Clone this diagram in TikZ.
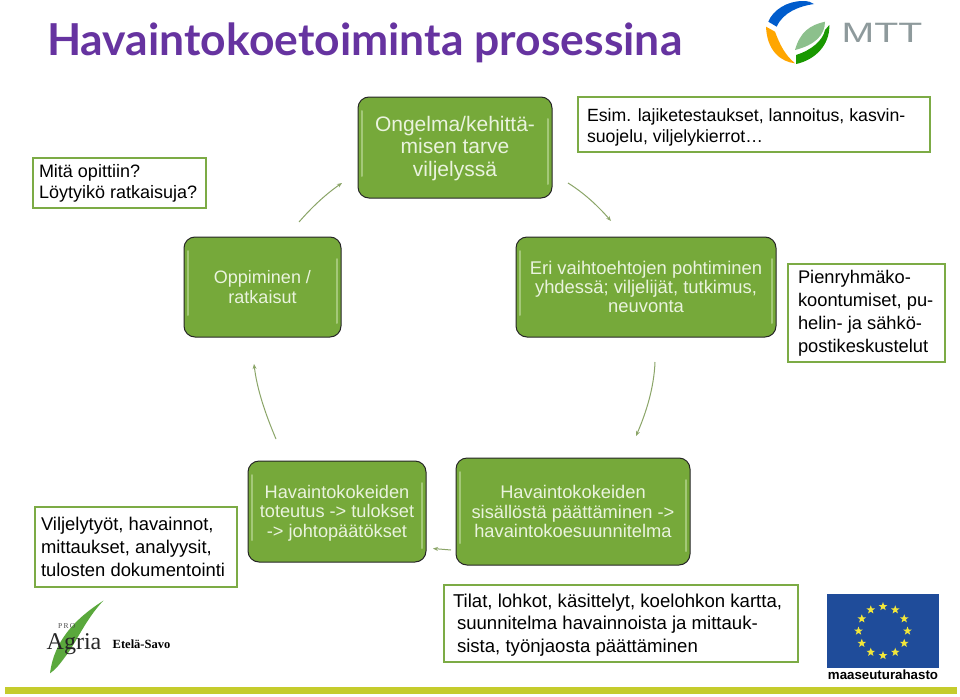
\documentclass[tikz,border=0pt]{standalone}
\usepackage{fontspec}
\setmainfont{Liberation Sans}
\newfontfamily\titlefont{Lato}
\newfontfamily\serifface{Liberation Serif}
\usetikzlibrary{shapes.geometric,calc,arrows.meta}
\definecolor{boxgreen}{HTML}{76A93A}
\definecolor{bevel}{HTML}{A4C878}
\definecolor{frameg}{HTML}{7CAB45}
\definecolor{arrowg}{HTML}{8BA568}
\definecolor{titlep}{HTML}{6633A0}
\definecolor{txtlight}{HTML}{EAF3DE}
\definecolor{barg}{HTML}{C5CC2C}
\definecolor{eublue}{HTML}{1F4C9A}
\definecolor{eustar}{HTML}{F2E63A}
\definecolor{mttgray}{HTML}{8E9A9C}
\definecolor{leafg}{HTML}{5AA83C}
\tikzset{
  stepbox/.style={draw=black!85,line width=1pt,fill=boxgreen,rounded corners=11pt,text=txtlight,
    align=center,inner sep=0pt,
    path picture={
      \draw[bevel,line width=2pt,line cap=round]
        ([xshift=4pt,yshift=-14pt]path picture bounding box.north west)
        -- ([xshift=4pt,yshift=22pt]path picture bounding box.south west);
      \draw[bevel,line width=2pt,line cap=round]
        ([xshift=-4pt,yshift=-22pt]path picture bounding box.north east)
        -- ([xshift=-4pt,yshift=14pt]path picture bounding box.south east);
    }},
  notebox/.style={draw=frameg,line width=2.8pt,fill=white,text=black,align=left,inner sep=0pt},
  flowarrow/.style={draw=arrowg,line width=1pt,-{Stealth[length=5pt,width=4pt]}},
}
\begin{document}
\begin{tikzpicture}[x=1pt,y=-1pt]
\useasboundingbox (0,0) rectangle (960,696);
\fill[white] (0,0) rectangle (960,696);

% title
\node[text=titlep,anchor=base west,inner sep=0pt] (title) at (47,55)
  {\resizebox{635pt}{\height}{\titlefont\bfseries\fontsize{44}{46}\selectfont Havaintokoetoiminta prosessina}};

% MTT logo
\fill[blue!55!cyan!80!black] (768.3,21.7) .. controls (773,10) and (787,1) .. (803,1) .. controls (808,1) and (811,2) .. (814,4) .. controls (800,6) and (783,12) .. (776.7,26.7) -- cycle;
\fill[orange!70!yellow] (766,26.7) -- (775,31.7) .. controls (780,45) and (785,55) .. (795,63.3) .. controls (782,62) and (767,52) .. (766,26.7) -- cycle;
\fill[green!55!black!90!yellow] (829.3,25) .. controls (830,45) and (815,60) .. (796,64) -- (796,55) .. controls (812,50) and (823,40) .. (825,30) -- cycle;
\fill[green!45!black!45!white] (795,50) .. controls (800,32) and (810,25) .. (825,21.7) .. controls (825,35) and (815,45) .. (795,50) -- cycle;
\node[text=mttgray,inner sep=0pt] (mtt) at (882,33) {\scalebox{1.4}[1]{\fontsize{28}{28}\selectfont MTT}};

% step boxes
\node[stepbox,minimum width=194pt,minimum height=101pt,font=\fontsize{21}{22.5}\selectfont] (need) at (455,147.5)
  {\rule{0pt}{17.3pt}Ongelma/kehittä-\\misen tarve\\viljelyssä};
\node[stepbox,minimum width=157pt,minimum height=100pt,font=\fontsize{18}{19.5}\selectfont] (learn) at (262.5,287)
  {Oppiminen /\\ratkaisut};
\node[stepbox,minimum width=260pt,minimum height=100pt,font=\fontsize{18.4}{19.3}\selectfont] (ideas) at (646,287)
  {Eri vaihtoehtojen pohtiminen\\yhdessä; viljelijät, tutkimus,\\neuvonta};
\node[stepbox,minimum width=178pt,minimum height=101pt,font=\fontsize{18.2}{19.5}\selectfont] (run) at (337,511.5)
  {\rule{0pt}{16.1pt}Havaintokokeiden\\toteutus -> tulokset\\-> johtopäätökset};
\node[stepbox,minimum width=234pt,minimum height=107pt,font=\fontsize{18.3}{19.5}\selectfont] (plan) at (573,511.5)
  {Havaintokokeiden\\sisällöstä päättäminen ->\\havaintokoesuunnitelma};

% note boxes
\node[notebox,minimum width=173pt,minimum height=50pt,font=\fontsize{18}{21}\selectfont] (n1) at (119.5,183)
  {\makebox[161pt][l]{Mitä opittiin?}\\\makebox[161pt][l]{Löytyikö ratkaisuja?}};
\node[notebox,minimum width=352pt,minimum height=55pt,font=\fontsize{17.7}{21.5}\selectfont] (n2) at (754,124.5)
  {\rule{0pt}{19pt}\makebox[340pt][l]{\hspace*{3pt}Esim. lajiketestaukset, lannoitus, kasvin-}\\\makebox[340pt][l]{\hspace*{3pt}suojelu, viljelykierrot…}};
\node[notebox,minimum width=157pt,minimum height=98pt,font=\fontsize{18.3}{23}\selectfont] (n3) at (866.5,313)
  {\makebox[137pt][l]{Pienryhmäko-}\\\makebox[137pt][l]{koontumiset, pu-}\\\makebox[137pt][l]{helin- ja sähkö-}\\\makebox[137pt][l]{postikeskustelut}};
\node[notebox,minimum width=202pt,minimum height=80pt,font=\fontsize{18.4}{22.7}\selectfont] (n4) at (136,547)
  {\makebox[190pt][l]{Viljelytyöt, havainnot,}\\\makebox[190pt][l]{mittaukset, analyysit,}\\\makebox[190pt][l]{tulosten dokumentointi}};
\node[notebox,minimum width=354pt,minimum height=77pt,font=\fontsize{18.6}{22.5}\selectfont] (n5) at (621,623.5)
  {\rule{0pt}{16.5pt}\makebox[338pt][l]{\hspace*{1pt}Tilat, lohkot, käsittelyt, koelohkon kartta,}\\\makebox[338pt][l]{\hspace*{5pt}suunnitelma havainnoista ja mittauk-}\\\makebox[338pt][l]{\hspace*{5pt}sista, työnjaosta päättäminen}};

% connectors
\coordinate (a1) at (299,222); \coordinate (a2) at (342,183);
\coordinate (b1) at (568,183); \coordinate (b2) at (611,221);
\coordinate (c1) at (655,362); \coordinate (c2) at (636,436);
\coordinate (d1) at (451,550); \coordinate (d2) at (433,548.5);
\coordinate (e1) at (276,439); \coordinate (e2) at (254,364);
\draw[flowarrow] (a1) .. controls (312,207) and (326,194) .. (a2);
\draw[flowarrow] (b1) .. controls (584,193) and (598,206) .. (b2);
\draw[flowarrow] (c1) .. controls (654,388) and (646,413) .. (c2);
\draw[flowarrow] (d1) -- (d2);
\draw[flowarrow] (e1) .. controls (265,413) and (257,389) .. (e2);

% ProAgria logo
\fill[leafg] (50,673.3) .. controls (53,650) and (65,625) .. (103.3,600.7) .. controls (85,620) and (75,645) .. (65,657) .. controls (60,664) and (55,670) .. (50,673.3) -- cycle;
\node[anchor=base west,inner sep=0pt,text=black!85] (agria) at (46.5,649)
  {\serifface\fontsize{24}{24}\selectfont Agria};
\node[anchor=base west,inner sep=0pt,text=black!70] (pro) at (58,628)
  {\serifface\fontsize{7.5}{8}\selectfont P\,R\,O};
\node[anchor=base west,inner sep=0pt,text=black] (etela) at (112.5,648)
  {\serifface\bfseries\fontsize{12.5}{13}\selectfont Etelä-Savo};

% EU flag
\fill[eublue] (827,594) rectangle (939,668);
\foreach \ang in {0,30,...,330}
  \node[star,star points=5,star point ratio=2.4,fill=eustar,inner sep=0pt,minimum size=9pt]
    at ($(883,631)+(\ang:24.5)$) {};
\node[inner sep=0pt,text=black] (maa) at (883,675)
  {\bfseries\fontsize{13.3}{14}\selectfont maaseuturahasto};

% bottom bar
\fill[barg] (5,687) rectangle (957,694);
\end{tikzpicture}
\end{document}
